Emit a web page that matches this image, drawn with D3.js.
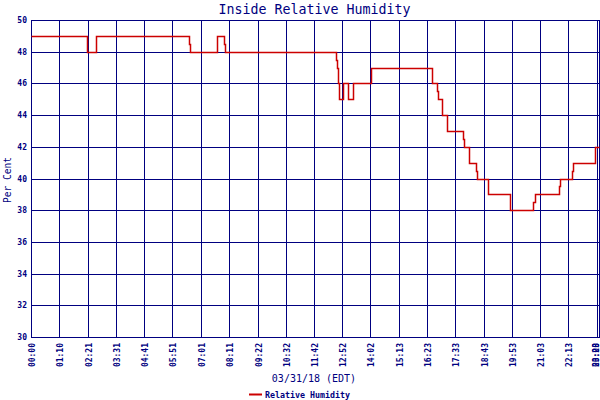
<!DOCTYPE html>
<html>
<head>
<meta charset="utf-8">
<script src="https://cdn.jsdelivr.net/npm/d3@7"></script>
<style>
  body { margin: 0; background: #fff; }
  svg { display: block; }
  text { font-family: "DejaVu Sans Mono", monospace; fill: #000080; }
</style>
</head>
<body>
<div id="chart-area"></div>
<script>
// step points: minute of day where the reading changes, and the new value
const stepMinutes = [0, 138, 140, 162, 391, 394, 462, 479, 482, 757, 760, 762, 765, 775, 787, 798, 800,
    844, 995, 1008, 1010, 1020, 1033, 1072, 1075, 1087, 1104, 1107, 1133, 1189, 1246, 1250,
    1309, 1313, 1343, 1345, 1400, 1409];
const stepValues = [49, 48.5, 48, 49, 48.5, 48, 49, 48.5, 48, 47.5, 47, 46, 45, 46, 45, 45.5, 46,
    47, 46, 45.5, 45, 44, 43, 42.5, 42, 41, 40.5, 40, 39, 38, 38.5, 39,
    39.5, 40, 40.5, 41, 42, 42];

const tickMinutes = [0, 70, 141, 211, 281, 351, 421, 491, 562, 632, 702, 772, 842, 913, 983,
    1053, 1123, 1193, 1263, 1333, 1403, 1409];
const tickLabels = ["00:00", "01:10", "02:21", "03:31", "04:41", "05:51", "07:01", "08:11", "09:22",
    "10:32", "11:42", "12:52", "14:02", "15:13", "16:23", "17:33", "18:43", "19:53", "21:03",
    "22:13", "23:23", "00:00"];
const yTicks = [30, 32, 34, 36, 38, 40, 42, 44, 46, 48, 50];

const chartSize = { width: 600, height: 400 };
const plot = { left: 31, right: 599, top: 20, bottom: 337 };
const navy = "#000080";
const red = "#cc0000";

const svg = d3.select("#chart-area")
    .append("svg")
    .attr("width", chartSize.width)
    .attr("height", chartSize.height);

const x = d3.scaleLinear().domain([0, 1409]).range([plot.left, plot.right]);
const y = d3.scaleLinear().domain([30, 50]).range([plot.bottom, plot.top]);

const crisp = v => Math.round(v) + 0.5;

// grid
const grid = svg.append("g").attr("class", "grid")
    .attr("stroke", navy).attr("stroke-width", 1).attr("shape-rendering", "crispEdges");

grid.selectAll(".vline").data(tickMinutes).join("line")
    .attr("class", "vline")
    .attr("x1", d => crisp(x(d))).attr("x2", d => crisp(x(d)))
    .attr("y1", plot.top).attr("y2", plot.bottom);

grid.selectAll(".hline").data(yTicks).join("line")
    .attr("class", "hline")
    .attr("x1", plot.left).attr("x2", plot.right + 1)
    .attr("y1", d => crisp(y(d))).attr("y2", d => crisp(y(d)));

// y labels
svg.append("g").selectAll("text").data(yTicks).join("text")
    .attr("x", 27)
    .attr("y", d => y(d) + 3)
    .attr("text-anchor", "end")
    .attr("font-size", 8)
    .attr("font-weight", "bold")
    .text(d => d);

// x labels (rotated), the last ones pushed back inside the page
svg.append("g").selectAll("text").data(tickMinutes).join("text")
    .attr("transform", d => `translate(${Math.min(crisp(x(d)) + 3, 599)}, 343) rotate(-90)`)
    .attr("text-anchor", "end")
    .attr("font-size", 8)
    .attr("font-weight", "bold")
    .text((d, i) => tickLabels[i]);

// humidity line
const points = stepMinutes.map((m, i) => ({ m, v: stepValues[i] }));
const line = d3.line()
    .x(p => crisp(x(p.m)))
    .y(p => crisp(y(p.v)))
    .curve(d3.curveStepAfter);

svg.append("path")
    .attr("d", line(points))
    .attr("fill", "none")
    .attr("stroke", red)
    .attr("stroke-width", 1.5);

// titles
svg.append("text")
    .attr("x", 314.5).attr("y", 14)
    .attr("text-anchor", "middle")
    .attr("font-size", 13.3)
    .text("Inside Relative Humidity");

svg.append("text")
    .attr("transform", "translate(11, 180) rotate(-90)")
    .attr("text-anchor", "middle")
    .attr("font-size", 9.6)
    .text("Per Cent");

svg.append("text")
    .attr("x", 314).attr("y", 382)
    .attr("text-anchor", "middle")
    .attr("font-size", 10)
    .text("03/31/18 (EDT)");

// legend
svg.append("line")
    .attr("x1", 249).attr("x2", 262)
    .attr("y1", 394.5).attr("y2", 394.5)
    .attr("stroke", red).attr("stroke-width", 2);

svg.append("text")
    .attr("x", 265).attr("y", 398)
    .attr("font-size", 8.3)
    .attr("font-weight", "bold")
    .text("Relative Humidity");
</script>
</body>
</html>
